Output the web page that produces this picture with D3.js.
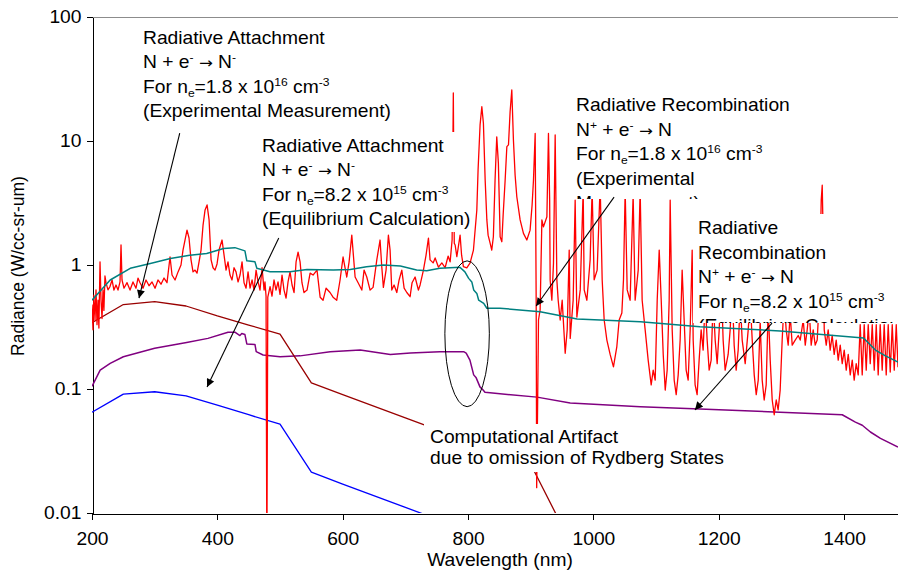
<!DOCTYPE html>
<html>
<head>
<meta charset="utf-8">
<script src="https://cdn.jsdelivr.net/npm/d3@7/dist/d3.min.js"></script>
<style>
  body { margin: 0; background: #fff; }
  svg { display: block; font-family: "Liberation Sans", Arial, sans-serif; }
  .tick text, .lbl { font-size: 17.5px; fill: #000; }
  .axis path, .axis line { stroke: #000; shape-rendering: crispEdges; }
</style>
</head>
<body>
<div id="container"></div>
<script>
//ticks de los ejes
var wlTicks = [200, 400, 600, 800, 1000, 1200, 1400];
var radTicks = [0.01, 0.1, 1, 10, 100];

//radiative attachment, medicion experimental (marron)
var attachExpWl = [200, 250, 300, 350, 400, 450, 500, 550, 600, 700, 800, 900, 1000];
var attachExpRad = [0.342, 0.48, 0.506, 0.467, 0.388, 0.328, 0.277, 0.112, 0.09, 0.0586, 0.038, 0.0247, 0.0025];

//radiative attachment, equilibrio (azul)
var attachEqWl = [200, 250, 300, 350, 400, 450, 500, 550, 600, 700, 800];
var attachEqRad = [0.065, 0.091, 0.095, 0.088, 0.074, 0.062, 0.052, 0.0214, 0.0171, 0.0111, 0.0072];

//radiative recombination, medicion experimental (verde azulado)
var recombExpWl = [200, 229, 261, 293, 325, 356, 383, 410, 428, 444, 447, 460, 463, 484, 516, 543, 585, 612, 638, 665,
    692, 718, 734, 755, 787, 795, 801, 806, 809, 814, 817, 825, 830, 851, 915, 958, 974, 1075, 1170, 1298,
    1431, 1442, 1450, 1466, 1486];
var recombExpRad = [0.52, 0.757, 0.94, 1.03, 1.13, 1.2, 1.24, 1.36, 1.38, 1.3, 1.08, 1.06, 0.94, 0.883, 0.883, 0.92, 0.91, 0.92, 0.97, 1.0,
    0.98, 0.91, 0.9, 0.94, 0.96, 0.88, 0.78, 0.73, 0.63, 0.59, 0.52, 0.49, 0.448, 0.448, 0.42, 0.38, 0.367, 0.349, 0.318, 0.294,
    0.258, 0.226, 0.206, 0.185, 0.165];

//radiative recombination, equilibrio (morado)
var recombEqWl = [200, 213, 229, 250, 300, 351, 385, 417, 428, 436, 439, 444, 447, 460, 462, 473, 500, 532, 580, 628,
    676, 708, 755, 793, 797, 803, 809, 813, 819, 824, 827, 910, 963, 1075, 1170, 1298, 1397, 1418, 1429, 1442,
    1458, 1486];
var recombEqRad = [0.105, 0.142, 0.161, 0.182, 0.213, 0.237, 0.256, 0.287, 0.287, 0.27, 0.28, 0.275, 0.231, 0.229, 0.2, 0.188, 0.182, 0.185, 0.2, 0.206,
    0.19, 0.195, 0.2, 0.2, 0.195, 0.171, 0.13, 0.123, 0.104, 0.098, 0.094, 0.086, 0.077, 0.072, 0.069, 0.065, 0.062, 0.054, 0.051, 0.045,
    0.04, 0.034];

//espectro medido (rojo) [longitud de onda, radiancia]
var measuredSpectrum = [
    [200,0.48],[201.6,0.30],[203,0.57],[204.8,0.36],[206.4,0.63],[208,0.33],[209.6,0.52],[211,0.31],[212.8,1.06],[214.4,0.52],
    [216,0.37],[217.6,0.63],[219,0.43],[220.7,0.815],[222.3,0.72],[225.5,0.63],[228.7,0.67],[232,0.757],[235,0.628],[238.3,0.69],
    [241.5,0.628],[244.7,0.73],[246.3,1.45],[247.9,0.757],[251,0.65],[255.9,0.72],[260.7,0.628],[265.4,0.73],[270.2,0.65],[273.4,0.785],
    [276.6,0.72],[281.4,0.65],[286.2,0.757],[291,0.68],[295.8,0.73],[300.6,0.65],[305.3,0.757],[310.1,0.70],[314.9,0.785],[319.7,0.72],
    [324.5,1.16],[327.7,0.83],[332.5,0.757],[337.3,0.88],[342,1.0],[345.2,1.32],[348.4,1.59],[351.6,1.91],[354.8,1.65],[358,1.10],
    [361.2,0.88],[364.4,0.91],[367.6,0.86],[370.8,1.06],[374,1.32],[377.2,2.1],[380.4,2.78],[383.6,3.05],[386.8,2.31],[390,1.10],
    [393.1,0.95],[396.3,0.91],[399.5,1.02],[402.7,1.32],[407.5,1.59],[410.7,1.20],[413.9,0.91],[417,1.06],[420.2,0.83],[423.4,0.757],
    [426.6,0.95],[429.8,0.88],[433,0.73],[436.2,0.83],[439.4,1.06],[442.6,0.72],[445.8,0.65],[449,0.88],[452.2,0.65],[455.4,0.757],
    [458.5,0.628],[461.8,0.91],[465,0.73],[468.1,0.628],[471.3,0.95],[474.5,0.628],[476,0.73],[477.7,0.56],[479,0.004],[480.5,0.55],
    [484.1,0.67],[487.2,0.56],[490.4,0.757],[493.6,0.628],[496.8,0.73],[500,0.58],[503.2,0.83],[506.4,0.628],[509.6,0.54],[512.8,0.73],
    [516,0.88],[519.2,0.69],[522.4,0.6],[525.6,1.06],[528.8,1.27],[532,1.06],[535,0.72],[538.3,0.6],[543.1,0.628],[548,0.86],
    [552.7,0.83],[559,0.91],[564,0.55],[568.7,0.52],[573.5,0.65],[579.8,0.6],[584.6,0.55],[590.5,0.52],[595.8,0.757],[600.6,1.16],
    [606.5,0.8],[610.2,1.06],[614.5,1.74],[619.8,0.8],[624.6,0.72],[630.5,0.628],[634.1,0.91],[638.4,0.8],[643.7,0.628],[648.5,0.66],
    [654.4,1.1],[659.6,1.59],[662.4,0.96],[664.9,0.66],[669.2,0.91],[672.9,1.74],[675.6,1.32],[678.3,0.628],[682,0.69],[686.3,0.6],
    [690,0.757],[694.3,0.91],[698,0.65],[702.3,0.6],[707.5,0.555],[710.7,0.72],[715.5,0.8],[720.8,0.628],[723.5,0.69],[728.8,0.91],
    [733,1.2],[736.8,1.65],[739.4,1.10],[744.3,1.04],[747.5,1.14],[752.8,0.96],[758.2,1.04],[763.4,0.95],[768.2,1.18],[771.4,1.06],
    [774.6,1.6],[776.5,24.4],[778,1.5],[779.4,1.45],[782.1,1.17],[784.2,1.37],[787.3,1.74],[789.7,1.2],[792.6,0.97],[798,0.95],
    [803.3,1.04],[808.6,1.32],[814,2.78],[816,5.84],[819.2,13.5],[822,18.9],[824.5,13.9],[827.3,4.85],[830,2.31],[832,1.74],
    [835.2,1.5],[837.8,1.32],[840.4,1.69],[843.1,4.85],[845.8,10.8],[848.4,6.6],[851.2,1.69],[853.9,1.54],[856,2.53],[859.2,4.85],
    [861.9,9.0],[864.5,9.3],[867.1,17.2],[869.8,25.8],[872.4,10.2],[875.1,5.3],[877.8,3.55],[883.1,2.31],[888.4,1.8],[893.8,1.59],
    [899,1.91],[902.2,3.05],[904.4,4.85],[907.1,11.5],[908.7,0.52],[909.5,0.016],[911.1,0.082],[912.4,0.36],[915,0.434],[917.8,2.31],
    [920.3,2.03],[925.8,2.45],[928.3,11.5],[930.2,3.34],[931,0.757],[933.7,0.52],[936.3,1.03],[939,11.2],[941.7,0.757],[943.8,0.52],
    [947,0.36],[950.2,0.52],[955,0.194],[958.2,0.3],[961.4,1.32],[963,0.256],[967.7,0.52],[970.9,3.34],[973.6,0.38],[979,0.63],
    [983.7,4.03],[985.3,0.63],[989.6,0.52],[994.8,1.1],[998,4.03],[1001.2,0.76],[1006,0.91],[1010.8,4.4],[1014,0.76],[1017.2,0.36],
    [1021.5,0.248],[1026.7,0.19],[1032,0.151],[1037.4,0.22],[1041.1,0.36],[1045.4,0.41],[1048,0.76],[1050.7,4.03],[1053.9,0.63],[1058.6,0.52],
    [1063.4,3.66],[1066.6,0.52],[1071.5,0.91],[1074.6,4.03],[1077.8,0.52],[1082.6,0.3],[1087.4,0.171],[1092.2,0.108],[1095.4,0.142],[1098.6,0.118],
    [1101.8,0.52],[1105,1.32],[1108.2,0.52],[1111.4,0.19],[1114.6,0.098],[1117.7,0.142],[1120.9,0.52],[1122.5,3.34],[1125.7,0.3],[1128.9,0.118],
    [1132.1,0.09],[1135.3,0.13],[1138.4,0.248],[1141.6,0.91],[1144.8,0.36],[1148,0.142],[1151.2,0.118],[1154.4,0.3],[1157.6,1.32],[1159.2,0.248],
    [1162.3,0.108],[1165.5,0.09],[1168.7,0.171],[1171.9,0.3],[1175.1,0.206],[1178.3,0.52],[1181.5,0.248],[1184.7,0.142],[1187.9,0.171],[1191.1,0.52],
    [1194.3,0.248],[1197.5,0.16],[1200.7,0.3],[1203.9,0.76],[1207,0.248],[1210.2,0.142],[1215,0.19],[1218.2,0.3],[1221.4,0.63],[1224.6,0.226],
    [1227.8,0.142],[1231,0.206],[1234.2,0.52],[1237.4,0.248],[1242.2,0.16],[1247,0.3],[1250.2,0.52],[1253.4,0.248],[1256.6,0.13],[1259.8,0.09],
    [1263,0.118],[1266.1,0.35],[1269.3,0.118],[1272.5,0.0815],[1275.7,0.108],[1278.9,0.45],[1282.1,0.171],[1285.3,0.0815],[1288.5,0.062],[1291.7,0.0815],
    [1294.8,0.068],[1298,0.098],[1301.2,0.248],[1304.4,0.52],[1307.6,0.3],[1310.8,0.226],[1314,0.4],[1317.2,0.226],[1322,0.248],[1326.8,0.27],
    [1330,0.248],[1334.8,0.36],[1338,0.226],[1341.1,0.3],[1344.3,0.434],[1347.5,0.226],[1350.7,0.3],[1353.9,0.226],[1357.1,0.248],[1360.3,0.52],
    [1363.5,3.34],[1365.1,4.4],[1366.7,1.59],[1368.3,0.3],[1371.5,0.226],[1374.6,0.3],[1377.8,0.206],[1381,0.27],[1384.2,0.19],[1387.4,0.248],
    [1390.6,0.171],[1393.8,0.226],[1397,0.16],[1400.2,0.206],[1403.4,0.142],[1406.6,0.19],[1409.8,0.13],[1413,0.171],[1416.1,0.118],[1419.3,0.16],
    [1422.5,0.13],[1425.7,0.33],[1428.9,0.13],[1432.1,0.33],[1435.3,0.142],[1438.5,0.33],[1441.7,0.16],[1444.9,0.33],[1448.1,0.142],[1451.3,0.33],
    [1454.4,0.13],[1457.6,0.33],[1460.8,0.142],[1464,0.33],[1467.2,0.13],[1470.4,0.33],[1473.6,0.137],[1476.8,0.33],[1480,0.142],[1483.2,0.33],
    [1486,0.15]
];

//textos de las anotaciones (segmento, tipo)
var noteAttachExp = [
    [["Radiative Attachment"]],
    [["N + e"], ["-", "sup"], [" "], ["\u2192", "arrow"], [" N"], ["-", "sup"]],
    [["For n"], ["e", "sub"], ["=1.8 x 10"], ["16", "sup"], [" cm"], ["-3", "sup"]],
    [["(Experimental Measurement)"]]
];
var noteAttachEq = [
    [["Radiative Attachment"]],
    [["N + e"], ["-", "sup"], [" "], ["\u2192", "arrow"], [" N"], ["-", "sup"]],
    [["For n"], ["e", "sub"], ["=8.2 x 10"], ["15", "sup"], [" cm"], ["-3", "sup"]],
    [["(Equilibrium Calculation)"]]
];
var noteRecombExp = [
    [["Radiative Recombination"]],
    [["N"], ["+", "sup"], [" + e"], ["-", "sup"], [" "], ["\u2192", "arrow"], [" N"]],
    [["For n"], ["e", "sub"], ["=1.8 x 10"], ["16", "sup"], [" cm"], ["-3", "sup"]],
    [["(Experimental"]],
    [["Measurement)"]]
];
var noteRecombEq = [
    [["Radiative"]],
    [["Recombination"]],
    [["N"], ["+", "sup"], [" + e"], ["-", "sup"], [" "], ["\u2192", "arrow"], [" N"]],
    [["For n"], ["e", "sub"], ["=8.2 x 10"], ["15", "sup"], [" cm"], ["-3", "sup"]],
    [["(Equilibrium Calculation)"]]
];
var noteArtifact = [
    [["Computational Artifact"]],
    [["due to omission of Rydberg States"]]
];

visualize();

function visualize() {

    var w = 898, h = 570;
    var plot = {left: 92, right: 898, top: 17, bottom: 513};
    var stretch = 1.1;

    var x = d3.scaleLinear().domain([200, 1486]).range([plot.left, plot.right]);
    var y = d3.scaleLog().domain([0.01, 100]).range([plot.bottom, plot.top]);

    var svg = d3.select("#container").append("svg")
        .attr("width", w)
        .attr("height", h);

    var defs = svg.append("defs");
    defs.append("clipPath").attr("id", "plotClip")
        .append("rect")
        .attr("x", plot.left).attr("y", plot.top)
        .attr("width", plot.right - plot.left).attr("height", plot.bottom - plot.top);

    defs.append("marker")
        .attr("id", "head")
        .attr("markerUnits", "userSpaceOnUse")
        .attr("viewBox", "0 0 10 10")
        .attr("refX", 10).attr("refY", 5)
        .attr("markerWidth", 10).attr("markerHeight", 8)
        .attr("orient", "auto")
        .append("path")
        .attr("d", "M0,0 L10,5 L0,10 z")
        .attr("fill", "#000");

    //borde superior
    svg.append("line")
        .attr("x1", plot.left).attr("x2", plot.right)
        .attr("y1", plot.top + 0.5).attr("y2", plot.top + 0.5)
        .attr("stroke", "#8c8c8c");

    //ejes
    svg.append("g")
        .attr("class", "axis")
        .attr("transform", "translate(0," + (plot.bottom + 0.5) + ")")
        .call(d3.axisBottom(x).tickValues(wlTicks).tickSize(6).tickSizeOuter(0).tickPadding(13)
            .tickFormat(d3.format("d")));

    svg.append("g")
        .attr("class", "axis")
        .attr("transform", "translate(" + (plot.left + 0.5) + ",0)")
        .call(d3.axisLeft(y).tickValues(radTicks).tickSize(6).tickSizeOuter(0).tickPadding(4)
            .tickFormat(function(d) { return d >= 1 ? d3.format("d")(d) : String(d); }));

    svg.selectAll(".tick text")
        .attr("font-family", null)
        .attr("font-size", null)
        .attr("transform", "scale(" + stretch + ",1)");

    svg.append("text")
        .attr("class", "lbl")
        .attr("text-anchor", "middle")
        .attr("transform", "translate(500,566) scale(" + stretch + ",1)")
        .text("Wavelength (nm)");

    svg.append("text")
        .attr("class", "lbl")
        .attr("text-anchor", "middle")
        .attr("transform", "translate(24,266) rotate(-90)")
        .text("Radiance (W/cc-sr-um)");

    //dibujar series
    var line = d3.line()
        .x(function(d) { return x(d[0]); })
        .y(function(d) { return y(d[1]); });

    var series = [
        {wl: recombEqWl, rad: recombEqRad, color: "#800080", width: 1.5},
        {wl: attachEqWl, rad: attachEqRad, color: "#0000ff", width: 1.3},
        {wl: attachExpWl, rad: attachExpRad, color: "#990000", width: 1.3},
        {wl: null, rad: null, color: "#ff0000", width: 1.3},
        {wl: recombExpWl, rad: recombExpRad, color: "#008080", width: 1.5}
    ];

    var lines = svg.append("g").attr("clip-path", "url(#plotClip)");

    series.forEach(function(s) {
        var pts = s.wl ? s.wl.map(function(v, i) { return [v, s.rad[i]]; }) : measuredSpectrum;
        lines.append("path")
            .attr("d", line(pts))
            .attr("fill", "none")
            .attr("stroke", s.color)
            .attr("stroke-width", s.width)
            .attr("stroke-linejoin", "round");
    });

    //cajas de texto con fondo blanco
    var notes = [
        {lines: noteAttachExp, box: [138, 22, 262, 103], tx: 143, base: 44, step: 24.4},
        {lines: noteAttachEq, box: [256, 132, 218, 100], tx: 262, base: 152, step: 24.4},
        {lines: noteRecombExp, box: [566, 90, 246, 109], tx: 576, base: 111, step: 24.5},
        {lines: noteRecombEq, box: [693, 214, 200, 109], tx: 698, base: 234, step: 24.5},
        {lines: noteArtifact, box: [424, 424, 306, 48], tx: 430, base: 443, step: 21}
    ];

    notes.forEach(function(n, k) {
        var g = svg.append("g");
        g.append("rect")
            .attr("x", n.box[0]).attr("y", n.box[1])
            .attr("width", n.box[2]).attr("height", n.box[3])
            .attr("fill", "#fff");
        defs.append("clipPath").attr("id", "noteClip" + k)
            .append("rect")
            .attr("x", n.box[0]).attr("y", n.box[1])
            .attr("width", n.box[2]).attr("height", n.box[3]);
        var tg = g.append("g").attr("clip-path", "url(#noteClip" + k + ")");
        n.lines.forEach(function(segs, i) {
            var t = tg.append("text")
                .attr("class", "lbl")
                .attr("transform", "translate(" + n.tx + "," + (n.base + i * n.step) + ") scale(" + stretch + ",1)");
            var shift = 0;
            segs.forEach(function(s) {
                var target = s[1] === "sup" ? -7 : (s[1] === "sub" ? 4 : 0);
                var ts = t.append("tspan").text(s[0]).attr("dy", target - shift);
                if (s[1] === "sup" || s[1] === "sub") ts.attr("font-size", 11);
                if (s[1] === "arrow") ts.attr("font-family", "DejaVu Sans").attr("font-size", 15);
                shift = target;
            });
        });
    });

    //flechas
    var arrows = [
        {from: [340, 11.6], to: [275, 0.54]},
        {from: [498, 1.65], to: [383.6, 0.104]},
        {from: [1033, 3.53], to: [908.7, 0.467]},
        {from: [1285, 0.34], to: [1162, 0.0677]}
    ];

    svg.append("g").selectAll("line")
        .data(arrows)
        .enter()
        .append("line")
        .attr("x1", function(d) { return x(d.from[0]); })
        .attr("y1", function(d) { return y(d.from[1]); })
        .attr("x2", function(d) { return x(d.to[0]); })
        .attr("y2", function(d) { return y(d.to[1]); })
        .attr("stroke", "#000")
        .attr("stroke-width", 1.1)
        .attr("marker-end", "url(#head)");

    //elipse del artefacto
    var ell = {wl: [763, 834], rad: [1.08, 0.072]};
    svg.append("ellipse")
        .attr("cx", (x(ell.wl[0]) + x(ell.wl[1])) / 2)
        .attr("cy", (y(ell.rad[0]) + y(ell.rad[1])) / 2)
        .attr("rx", (x(ell.wl[1]) - x(ell.wl[0])) / 2)
        .attr("ry", (y(ell.rad[1]) - y(ell.rad[0])) / 2)
        .attr("fill", "none")
        .attr("stroke", "#000")
        .attr("stroke-width", 1);
}
</script>
</body>
</html>
